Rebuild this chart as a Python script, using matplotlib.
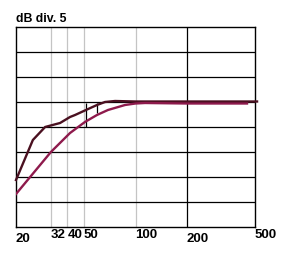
import matplotlib
matplotlib.use("Agg")
import matplotlib.pyplot as plt

# frequency axis (Hz) and labels
tick_freqs = [20, 32, 40, 50, 100, 200, 500]
tick_labels = ["20", "32", "40", "50", "100", "200", "500"]
tick_low = [True, False, False, False, False, True, False]
gray_lines = [32, 40, 50, 100]
black_lines = [200]

# response curves, level in divisions (5 dB each) above the bottom line
dark_freq = [20, 25.1, 29.6, 36.2, 41.4, 44.3, 51.3, 59.5, 66.3, 75.9, 100, 200, 514]
dark_level = [1.88, 3.48, 4.0, 4.16, 4.4, 4.48, 4.68, 4.88, 5.0, 5.04, 5.02, 5.02, 5.02]
mag_freq = [20, 32, 41.4, 50.6, 59.5, 69.0, 86.8, 100, 113.7, 200, 449]
mag_level = [1.32, 3.0, 3.76, 4.2, 4.48, 4.68, 4.88, 4.94, 4.96, 4.94, 4.94]

# small markers near 50 Hz
marker_freq = [51.3, 59.5]
marker_top = [4.96, 4.96]
marker_bottom = [4.0, 4.56]


def main():
    plt.rcParams['font.family'] = ['Liberation Sans', 'DejaVu Sans']
    fig = plt.figure(figsize=(2.93, 2.57), dpi=100)
    ax = fig.add_axes([16 / 293, 30 / 257, 239 / 293, 200 / 257])
    ax.set_xscale("log")
    ax.set_xlim(20, 500)
    ax.set_ylim(0, 8)
    ax.set_xticks([])
    ax.set_yticks([])
    ax.minorticks_off()
    for s in ax.spines.values():
        s.set_linewidth(1.0)
        s.set_color("black")

    for i in range(1, 8):
        ax.axhline(i, color="black", lw=0.9, zorder=1)
    for f in gray_lines:
        ax.axvline(f, color="#c4c4c4", lw=0.9, zorder=0.5)
    for f in black_lines:
        ax.axvline(f, color="black", lw=0.9, zorder=1)

    ax.vlines(marker_freq, marker_bottom, marker_top, color="black", lw=0.9, zorder=2)

    ax.plot(dark_freq, dark_level, color="#4a1020", lw=1.7, zorder=3, clip_on=False)
    ax.plot(mag_freq, mag_level, color="#8e1a4c", lw=1.7, zorder=4)

    trans = ax.get_xaxis_transform()
    for f, lab, low in zip(tick_freqs, tick_labels, tick_low):
        y = -0.03 if low else -0.012
        ax.text(f, y, lab, transform=trans, ha="left", va="top",
                fontsize=9.5, fontweight="bold")

    ax.text(0, 1.012, "dB div. 5", transform=ax.transAxes, ha="left", va="bottom",
            fontsize=8.8, fontweight="bold")

    fig.savefig("out.png", dpi=100)


if __name__ == '__main__':
    main()
